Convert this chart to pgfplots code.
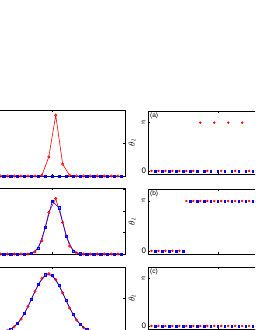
\documentclass[border=0pt]{standalone}
\usepackage{fontspec}
\setmainfont{Liberation Sans}
\usepackage{pgfplots}
\pgfplotsset{compat=1.18}
\tikzset{lab/.style={anchor=north west, inner sep=0.5pt, font=\fontsize{6.5}{7}\selectfont}}
\begin{document}
\begin{tikzpicture}[x=1pt,y=1pt]
\useasboundingbox (0,0) rectangle (255,330);
\clip (0,0) rectangle (255,330);
\pgfplotsset{
  base/.style={scale only axis, anchor=south west, xmin=0, xmax=41, xtick={20}, xticklabels={},
    axis line style={line width=0.7pt}, tick style={line width=0.5pt, black}, major tick length=2pt,
    font=\fontsize{8}{9}\selectfont, clip=false},
  lft/.style={base, width=142pt, height=66pt, ymin=0, ymax=1, yticklabels={}},
  rgt/.style={base, width=143pt, ymin=-0.2, ymax=3.9, ytick={0,3.14159}, yticklabels={0,$\pi$},
    ylabel={$\theta_l$}, ylabel style={yshift=-2pt, font=\fontsize{9}{10}\selectfont}, yticklabel style={xshift=1.5pt}},
  rl/.style={red, line width=0.6pt, mark=o, mark size=1.2pt},
  bl/.style={blue, line width=0.6pt, mark=square, mark size=1.1pt},
  rm/.style={only marks, red, mark=*, mark size=1.0pt},
  bm/.style={only marks, blue, mark=square*, mark size=0.9pt},
}
% ---------- left column ----------
\begin{axis}[lft, at={(-17pt,154pt)}, ytick={0,0.5,1}]
\addplot[rl] coordinates {(1,0)(3,0)(5,0)(7,0)(9,0)(11,0)(13,0)(15,0)(17,0.01)(19,0.29)(21,0.92)(23,0.18)(25,0.01)(27,0)(29,0)(31,0)(33,0)(35,0)(37,0)(39,0)};
\addplot[bl] coordinates {(2,0)(4,0)(6,0)(8,0)(10,0)(12,0)(14,0)(16,0)(18,0)(20,0)(22,0)(24,0)(26,0)(28,0)(30,0)(32,0)(34,0)(36,0)(38,0)(40,0)};
\end{axis}
\begin{axis}[lft, at={(-17pt,76pt)}, ytick={0,0.325,0.65,0.975}]
\addplot[rl] coordinates {(1,0)(3,0)(5,0)(7,0)(9,0)(11,0)(13,0)(15,0.03)(17,0.20)(19,0.63)(21,0.84)(23,0.48)(25,0.12)(27,0.015)(29,0)(31,0)(33,0)(35,0)(37,0)(39,0)};
\addplot[bl] coordinates {(2,0)(4,0)(6,0)(8,0)(10,0)(12,0)(14,0.008)(16,0.09)(18,0.40)(20,0.80)(22,0.70)(24,0.27)(26,0.046)(28,0.003)(30,0)(32,0)(34,0)(36,0)(38,0)(40,0)};
\end{axis}
\begin{axis}[lft, at={(-17pt,-3pt)}, ytick={0,0.53,1.06}]
\addplot[rl] coordinates {(1,0.001)(3,0.002)(5,0.010)(7,0.033)(9,0.092)(11,0.211)(13,0.400)(15,0.632)(17,0.828)(19,0.90)(21,0.812)(23,0.609)(25,0.379)(27,0.196)(29,0.084)(31,0.030)(33,0.009)(35,0.002)(37,0.001)(39,0)};
\addplot[bl] coordinates {(2,0.001)(4,0.005)(6,0.019)(8,0.057)(10,0.143)(12,0.297)(14,0.515)(16,0.740)(18,0.883)(20,0.875)(22,0.72)(24,0.491)(26,0.279)(28,0.131)(30,0.051)(32,0.017)(34,0.005)(36,0.001)(38,0)(40,0)};
\end{axis}
% ---------- right column ----------
\begin{axis}[rgt, at={(148pt,156pt)}, height=63pt]
\addplot[rm] coordinates {(1,0)(3,0)(5,0)(7,0)(9,0)(11,0)(13,0)(15,3.14159)(17,0)(19,3.14159)(21,0)(23,3.14159)(25,0)(27,3.14159)(29,0)(31,0)(33,0)(35,0)(37,0)(39,0)};
\addplot[bm] coordinates {(2,0)(4,0)(6,0)(8,0)(10,0)(12,0)(14,0)(16,0)(18,0)(20,0)(22,0)(24,0)(26,0)(28,0)(30,0)(32,0)(34,0)(36,0)(38,0)(40,0)};
\node[lab] at (rel axis cs:0.01,0.99) {(a)};
\end{axis}
\begin{axis}[rgt, at={(148pt,76pt)}, height=65pt]
\addplot[rm] coordinates {(1,0)(3,0)(5,0)(7,0)(9,0)(11,3.14159)(13,3.14159)(15,3.14159)(17,3.14159)(19,3.14159)(21,3.14159)(23,3.14159)(25,3.14159)(27,3.14159)(29,3.14159)(31,3.14159)(33,3.14159)(35,3.14159)(37,3.14159)(39,3.14159)};
\addplot[bm] coordinates {(2,0)(4,0)(6,0)(8,0)(10,0)(12,3.14159)(14,3.14159)(16,3.14159)(18,3.14159)(20,3.14159)(22,3.14159)(24,3.14159)(26,3.14159)(28,3.14159)(30,3.14159)(32,3.14159)(34,3.14159)(36,3.14159)(38,3.14159)(40,3.14159)};
\node[lab] at (rel axis cs:0.01,0.99) {(b)};
\end{axis}
\begin{axis}[rgt, at={(148pt,1pt)}, height=62pt]
\addplot[rm] coordinates {(1,0)(3,0)(5,0)(7,0)(9,0)(11,0)(13,0)(15,0)(17,0)(19,0)(21,0)(23,0)(25,0)(27,0)(29,0)(31,0)(33,0)(35,0)(37,0)(39,0)};
\addplot[bm] coordinates {(2,0)(4,0)(6,0)(8,0)(10,0)(12,0)(14,0)(16,0)(18,0)(20,0)(22,0)(24,0)(26,0)(28,0)(30,0)(32,0)(34,0)(36,0)(38,0)(40,0)};
\node[lab] at (rel axis cs:0.01,0.99) {(c)};
\end{axis}
\end{tikzpicture}
\end{document}
